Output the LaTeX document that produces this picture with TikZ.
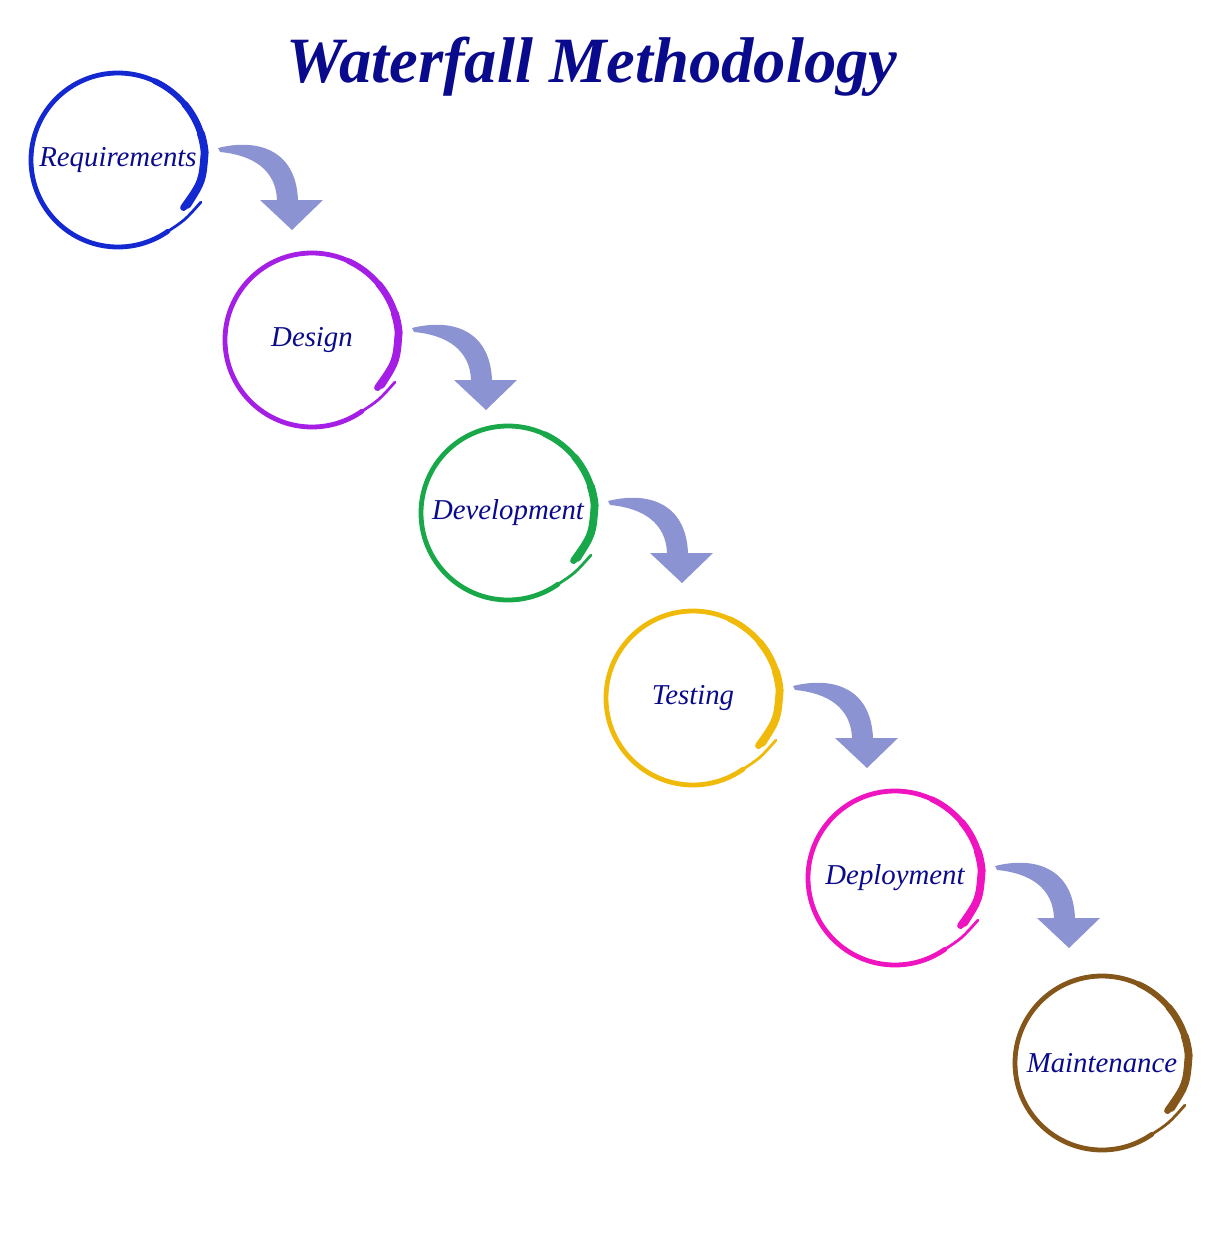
\documentclass[tikz,border=0pt]{standalone}
\usepackage{fontspec}
\setmainfont{Liberation Serif}
\usetikzlibrary{positioning}
\definecolor{wfnavy}{HTML}{0A0A8C}
\definecolor{wfarrow}{HTML}{8C93D2}
\definecolor{wfblue}{HTML}{1428D2}
\definecolor{wfpurple}{HTML}{A41EE6}
\definecolor{wfgreen}{HTML}{18A84A}
\definecolor{wfyellow}{HTML}{F0BA0A}
\definecolor{wfmagenta}{HTML}{F014C0}
\definecolor{wfbrown}{HTML}{84561A}
% brush-stroke ring round a stage node
\newcommand{\brushring}[2]{%
  \begin{scope}[shift={(#1.center)},x=0.5pt,y=0.5pt,draw=#2,line cap=round]
    \draw[line width=2.4pt] (0:87) arc[start angle=0,end angle=305,radius=87];
    \draw[line width=2.9pt] (0:87) arc[start angle=0,end angle=65,radius=87];
    \draw[line width=3.4pt] (-36:81) .. controls (-14:87) .. (5:87)
      arc[start angle=5,end angle=40,radius=87];
    \draw[line width=3.9pt] (-33:82.5) .. controls (-14:87) .. (5:87)
      arc[start angle=5,end angle=18,radius=87];
    \draw[line width=1.4pt] (-56:87) .. controls (-42:90) .. (-27:93);
  \end{scope}}
% curved fat arrow leaving a stage node
\newcommand{\fallarrow}[1]{%
  \fill[wfarrow,shift={(#1.center)},x=0.5pt,y=-0.5pt]
    (100,-12) .. controls (140,-22) and (178,-10) .. (180,40) -- (205,40)
    -- (174,70) -- (142,40) -- (159,40)
    .. controls (158,10) and (135,-5) .. (102,-8) -- cycle;}

\begin{document}
\begin{tikzpicture}[x=0.5pt,y=-0.5pt,on grid,
  stage/.style={circle,minimum size=87pt,inner sep=0pt,
    font=\fontsize{14.4}{17}\selectfont\itshape,text=wfnavy},
  head/.style={font=\fontsize{32.3}{36}\selectfont\bfseries\itshape,text=wfnavy}]
  \useasboundingbox (0,0) rectangle (1217,1258);
  \node[head,anchor=base] (title) at (592,82) {Waterfall Methodology};
  \node[stage] (req) at (118,160) {Requirements};
  \node[stage,below right=90pt and 97pt of req] (des) {Design};
  \node[stage,below right=86.5pt and 98pt of des] (dev) {Development};
  \node[stage,below right=92.5pt and 92.5pt of dev] (tst) {Testing};
  \node[stage,below right=90pt and 101pt of tst] (dep) {Deployment};
  \node[stage,below right=92.5pt and 103.5pt of dep] (mnt) {Maintenance};
  \brushring{req}{wfblue}
  \brushring{des}{wfpurple}
  \brushring{dev}{wfgreen}
  \brushring{tst}{wfyellow}
  \brushring{dep}{wfmagenta}
  \brushring{mnt}{wfbrown}
  \fallarrow{req}
  \fallarrow{des}
  \fallarrow{dev}
  \fallarrow{tst}
  \fallarrow{dep}
\end{tikzpicture}
\end{document}
